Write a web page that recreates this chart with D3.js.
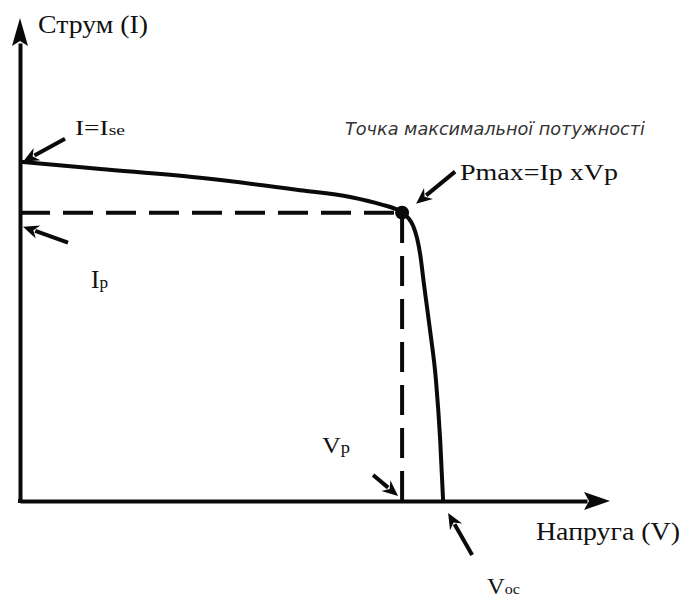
<!DOCTYPE html>
<html><head><meta charset="utf-8">
<script src="https://cdn.jsdelivr.net/npm/d3@7"></script>
<style>html,body{margin:0;padding:0;background:#fff;}svg{display:block;}</style>
</head><body>
<script>
// I-V curve data (arbitrary units)
const voltage = [0, 1.9, 4.26, 6.62, 7.8, 8.51, 9.03, 9.29, 9.46, 9.55, 9.69, 9.83, 9.93, 10.0];
const current = [8.0, 7.83, 7.62, 7.33, 7.17, 7.0, 6.8, 6.49, 5.8, 5.09, 4.03, 2.85, 1.44, 0];
const Isc = 8.0, Ip = 6.8, Vp = 9.03, Voc = 10.0;
const labels = {
  yTitle: "Струм (I)",
  xTitle: "Напруга (V)",
  mpp: "Точка максимальної потужності",
  pmax: "Pmax=Ip xVp"
};

const W = 685, H = 603;
const svg = d3.select("body").append("svg").attr("width", W).attr("height", H);

const x = d3.scaleLinear().domain([0, 13.4]).range([20, 587]);
const y = d3.scaleLinear().domain([0, 10.8]).range([501, 43]);

const ink = "#0a0a0a";

// axes
svg.append("g").attr("transform", `translate(0,${y(0)})`)
  .call(d3.axisBottom(x).ticks(0).tickSizeOuter(0));
svg.append("g").attr("transform", `translate(${x(0)},0)`)
  .call(d3.axisLeft(y).ticks(0).tickSizeOuter(0));
svg.selectAll(".domain").attr("stroke", ink).attr("stroke-width", 4);
svg.append("line").attr("x1", x(0) - 2).attr("x2", x(0) + 2).attr("y1", y(0)).attr("y2", y(0))
  .attr("stroke", ink).attr("stroke-width", 4);
// arrow heads
const xr = x.range()[1], yt = y.range()[1];
svg.append("path").attr("fill", ink)
  .attr("d", `M${xr - 3},${y(0) - 9} L${xr + 23},${y(0)} L${xr - 3},${y(0) + 9} L${xr + 2},${y(0)} Z`);
svg.append("path").attr("fill", ink)
  .attr("d", `M${x(0) - 8},${yt + 3} L${x(0)},${yt - 25} L${x(0) + 8},${yt + 3} L${x(0)},${yt - 2} Z`);

// dashed guides
svg.append("line").attr("x1", x(0)).attr("x2", x(Vp)).attr("y1", y(Ip)).attr("y2", y(Ip))
  .attr("stroke", ink).attr("stroke-width", 4).attr("stroke-dasharray", "30,13");
svg.append("line").attr("x1", x(Vp)).attr("x2", x(Vp)).attr("y1", y(0)).attr("y2", y(Ip))
  .attr("stroke", ink).attr("stroke-width", 4).attr("stroke-dasharray", "30,13");

// curve
const pts = voltage.map((v, i) => [v, current[i]]);
svg.append("path").datum(pts)
  .attr("fill", "none").attr("stroke", ink).attr("stroke-width", 4)
  .attr("d", d3.line().x(d => x(d[0])).y(d => y(d[1])).curve(d3.curveMonotoneX));

// max power point
svg.append("circle").attr("cx", x(Vp)).attr("cy", y(Ip)).attr("r", 7).attr("fill", ink);

// annotation arrows
function arrow(x1, y1, x2, y2) {
  const a = Math.atan2(y2 - y1, x2 - x1);
  const L = 16, w = 7;
  const bx = x2 - L * Math.cos(a), by = y2 - L * Math.sin(a);
  svg.append("line").attr("x1", x1).attr("y1", y1).attr("x2", bx + 3 * Math.cos(a)).attr("y2", by + 3 * Math.sin(a))
    .attr("stroke", ink).attr("stroke-width", 4);
  const px = -Math.sin(a), py = Math.cos(a);
  const nx = x2 - (L - 5) * Math.cos(a), ny = y2 - (L - 5) * Math.sin(a);
  svg.append("path").attr("fill", ink)
    .attr("d", `M${x2},${y2} L${bx + w * px},${by + w * py} L${nx},${ny} L${bx - w * px},${by - w * py} Z`);
}
arrow(x(0) + 45, y(Isc) - 23, x(0) + 3, y(Isc));
arrow(x(0) + 48, y(Ip) + 30, x(0) + 3, y(Ip) + 14);
arrow(x(Vp) + 53, y(Ip) - 41, x(Vp) + 14, y(Ip) - 9);
arrow(x(Vp) - 29, y(0) - 26, x(Vp) - 4, y(0) - 5);
arrow(x(Voc) + 29, y(0) + 54, x(Voc) + 5, y(0) + 12);

// texts
const serif = "'Liberation Serif','Times New Roman',serif";
function txt(xp, yp, parts, len) {
  const t = svg.append("text").attr("x", xp).attr("y", yp).attr("font-family", serif).attr("fill", "#111");
  parts.forEach(p => t.append("tspan").attr("font-size", p[1]).text(p[0]));
  if (len) t.attr("textLength", len).attr("lengthAdjust", "spacingAndGlyphs");
  return t;
}
txt(38, 33, [[labels.yTitle, 25]], 110);
txt(536, 540, [[labels.xTitle, 25]], 144);
txt(460, 180, [[labels.pmax, 23]], 158);
txt(75, 135, [["I=I", 21], ["se", 15]], 50);
txt(91, 288, [["I", 25], ["p", 17]], 17);
txt(322, 453, [["V", 24], ["p", 17]], 28);
txt(487, 594, [["V", 23], ["oc", 15]], 33);

svg.append("text").attr("x", 345).attr("y", 135)
  .attr("font-family", "'DejaVu Sans','Liberation Sans',sans-serif")
  .attr("font-style", "italic").attr("font-weight", 300)
  .attr("font-size", 17).attr("fill", "#333")
  .attr("textLength", 300).attr("lengthAdjust", "spacingAndGlyphs")
  .text(labels.mpp);
</script>
</body></html>
